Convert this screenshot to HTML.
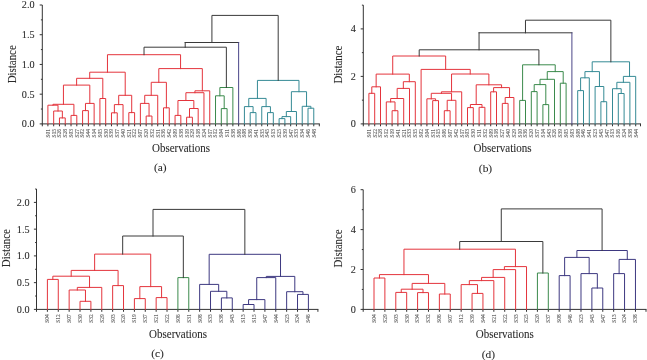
<!DOCTYPE html>
<html><head><meta charset="utf-8"><style>
html,body{margin:0;padding:0;background:#fff;}
body{width:647px;height:360px;overflow:hidden;}
svg{display:block;font-family:"Liberation Serif", serif;will-change:transform;}
</style></head><body>
<svg width="647" height="360" viewBox="0 0 647 360" shape-rendering="auto">
<rect width="647" height="360" fill="#fff"/>
<g stroke-linecap="square">
<line x1="42.30" y1="5.00" x2="42.30" y2="123.90" stroke="#333333" stroke-width="1.0" stroke-linecap="butt"/>
<line x1="39.70" y1="123.90" x2="42.30" y2="123.90" stroke="#333333" stroke-width="1.0" stroke-linecap="butt"/>
<line x1="40.90" y1="109.04" x2="42.30" y2="109.04" stroke="#333333" stroke-width="1.0" stroke-linecap="butt"/>
<line x1="39.70" y1="94.18" x2="42.30" y2="94.18" stroke="#333333" stroke-width="1.0" stroke-linecap="butt"/>
<line x1="40.90" y1="79.31" x2="42.30" y2="79.31" stroke="#333333" stroke-width="1.0" stroke-linecap="butt"/>
<line x1="39.70" y1="64.45" x2="42.30" y2="64.45" stroke="#333333" stroke-width="1.0" stroke-linecap="butt"/>
<line x1="40.90" y1="49.59" x2="42.30" y2="49.59" stroke="#333333" stroke-width="1.0" stroke-linecap="butt"/>
<line x1="39.70" y1="34.72" x2="42.30" y2="34.72" stroke="#333333" stroke-width="1.0" stroke-linecap="butt"/>
<line x1="40.90" y1="19.86" x2="42.30" y2="19.86" stroke="#333333" stroke-width="1.0" stroke-linecap="butt"/>
<line x1="39.70" y1="5.00" x2="42.30" y2="5.00" stroke="#333333" stroke-width="1.0" stroke-linecap="butt"/>
<line x1="41.80" y1="123.90" x2="319.80" y2="123.90" stroke="#333333" stroke-width="1.0" stroke-linecap="butt"/>
<line x1="42.30" y1="123.90" x2="42.30" y2="126.30" stroke="#333333" stroke-width="1.0" stroke-linecap="butt"/>
<line x1="47.90" y1="123.90" x2="47.90" y2="126.30" stroke="#333333" stroke-width="1.0" stroke-linecap="butt"/>
<line x1="53.68" y1="123.90" x2="53.68" y2="126.30" stroke="#333333" stroke-width="1.0" stroke-linecap="butt"/>
<line x1="59.46" y1="123.90" x2="59.46" y2="126.30" stroke="#333333" stroke-width="1.0" stroke-linecap="butt"/>
<line x1="65.24" y1="123.90" x2="65.24" y2="126.30" stroke="#333333" stroke-width="1.0" stroke-linecap="butt"/>
<line x1="71.02" y1="123.90" x2="71.02" y2="126.30" stroke="#333333" stroke-width="1.0" stroke-linecap="butt"/>
<line x1="76.80" y1="123.90" x2="76.80" y2="126.30" stroke="#333333" stroke-width="1.0" stroke-linecap="butt"/>
<line x1="82.58" y1="123.90" x2="82.58" y2="126.30" stroke="#333333" stroke-width="1.0" stroke-linecap="butt"/>
<line x1="88.36" y1="123.90" x2="88.36" y2="126.30" stroke="#333333" stroke-width="1.0" stroke-linecap="butt"/>
<line x1="94.14" y1="123.90" x2="94.14" y2="126.30" stroke="#333333" stroke-width="1.0" stroke-linecap="butt"/>
<line x1="99.92" y1="123.90" x2="99.92" y2="126.30" stroke="#333333" stroke-width="1.0" stroke-linecap="butt"/>
<line x1="105.70" y1="123.90" x2="105.70" y2="126.30" stroke="#333333" stroke-width="1.0" stroke-linecap="butt"/>
<line x1="111.48" y1="123.90" x2="111.48" y2="126.30" stroke="#333333" stroke-width="1.0" stroke-linecap="butt"/>
<line x1="117.26" y1="123.90" x2="117.26" y2="126.30" stroke="#333333" stroke-width="1.0" stroke-linecap="butt"/>
<line x1="123.04" y1="123.90" x2="123.04" y2="126.30" stroke="#333333" stroke-width="1.0" stroke-linecap="butt"/>
<line x1="128.82" y1="123.90" x2="128.82" y2="126.30" stroke="#333333" stroke-width="1.0" stroke-linecap="butt"/>
<line x1="134.60" y1="123.90" x2="134.60" y2="126.30" stroke="#333333" stroke-width="1.0" stroke-linecap="butt"/>
<line x1="140.38" y1="123.90" x2="140.38" y2="126.30" stroke="#333333" stroke-width="1.0" stroke-linecap="butt"/>
<line x1="146.16" y1="123.90" x2="146.16" y2="126.30" stroke="#333333" stroke-width="1.0" stroke-linecap="butt"/>
<line x1="151.94" y1="123.90" x2="151.94" y2="126.30" stroke="#333333" stroke-width="1.0" stroke-linecap="butt"/>
<line x1="157.72" y1="123.90" x2="157.72" y2="126.30" stroke="#333333" stroke-width="1.0" stroke-linecap="butt"/>
<line x1="163.50" y1="123.90" x2="163.50" y2="126.30" stroke="#333333" stroke-width="1.0" stroke-linecap="butt"/>
<line x1="169.28" y1="123.90" x2="169.28" y2="126.30" stroke="#333333" stroke-width="1.0" stroke-linecap="butt"/>
<line x1="175.06" y1="123.90" x2="175.06" y2="126.30" stroke="#333333" stroke-width="1.0" stroke-linecap="butt"/>
<line x1="180.84" y1="123.90" x2="180.84" y2="126.30" stroke="#333333" stroke-width="1.0" stroke-linecap="butt"/>
<line x1="186.62" y1="123.90" x2="186.62" y2="126.30" stroke="#333333" stroke-width="1.0" stroke-linecap="butt"/>
<line x1="192.40" y1="123.90" x2="192.40" y2="126.30" stroke="#333333" stroke-width="1.0" stroke-linecap="butt"/>
<line x1="198.18" y1="123.90" x2="198.18" y2="126.30" stroke="#333333" stroke-width="1.0" stroke-linecap="butt"/>
<line x1="203.96" y1="123.90" x2="203.96" y2="126.30" stroke="#333333" stroke-width="1.0" stroke-linecap="butt"/>
<line x1="209.74" y1="123.90" x2="209.74" y2="126.30" stroke="#333333" stroke-width="1.0" stroke-linecap="butt"/>
<line x1="215.52" y1="123.90" x2="215.52" y2="126.30" stroke="#333333" stroke-width="1.0" stroke-linecap="butt"/>
<line x1="221.30" y1="123.90" x2="221.30" y2="126.30" stroke="#333333" stroke-width="1.0" stroke-linecap="butt"/>
<line x1="227.08" y1="123.90" x2="227.08" y2="126.30" stroke="#333333" stroke-width="1.0" stroke-linecap="butt"/>
<line x1="232.86" y1="123.90" x2="232.86" y2="126.30" stroke="#333333" stroke-width="1.0" stroke-linecap="butt"/>
<line x1="238.64" y1="123.90" x2="238.64" y2="126.30" stroke="#333333" stroke-width="1.0" stroke-linecap="butt"/>
<line x1="244.42" y1="123.90" x2="244.42" y2="126.30" stroke="#333333" stroke-width="1.0" stroke-linecap="butt"/>
<line x1="250.20" y1="123.90" x2="250.20" y2="126.30" stroke="#333333" stroke-width="1.0" stroke-linecap="butt"/>
<line x1="255.98" y1="123.90" x2="255.98" y2="126.30" stroke="#333333" stroke-width="1.0" stroke-linecap="butt"/>
<line x1="261.76" y1="123.90" x2="261.76" y2="126.30" stroke="#333333" stroke-width="1.0" stroke-linecap="butt"/>
<line x1="267.54" y1="123.90" x2="267.54" y2="126.30" stroke="#333333" stroke-width="1.0" stroke-linecap="butt"/>
<line x1="273.32" y1="123.90" x2="273.32" y2="126.30" stroke="#333333" stroke-width="1.0" stroke-linecap="butt"/>
<line x1="279.10" y1="123.90" x2="279.10" y2="126.30" stroke="#333333" stroke-width="1.0" stroke-linecap="butt"/>
<line x1="284.88" y1="123.90" x2="284.88" y2="126.30" stroke="#333333" stroke-width="1.0" stroke-linecap="butt"/>
<line x1="290.66" y1="123.90" x2="290.66" y2="126.30" stroke="#333333" stroke-width="1.0" stroke-linecap="butt"/>
<line x1="296.44" y1="123.90" x2="296.44" y2="126.30" stroke="#333333" stroke-width="1.0" stroke-linecap="butt"/>
<line x1="302.22" y1="123.90" x2="302.22" y2="126.30" stroke="#333333" stroke-width="1.0" stroke-linecap="butt"/>
<line x1="308.00" y1="123.90" x2="308.00" y2="126.30" stroke="#333333" stroke-width="1.0" stroke-linecap="butt"/>
<line x1="313.78" y1="123.90" x2="313.78" y2="126.30" stroke="#333333" stroke-width="1.0" stroke-linecap="butt"/>
<line x1="319.30" y1="123.90" x2="319.30" y2="126.30" stroke="#333333" stroke-width="1.0" stroke-linecap="butt"/>
<path d="M59.46,123.90V117.90H65.24V123.90" stroke="#e4343c" stroke-width="1.0" fill="none"/>
<path d="M53.68,123.90V111.00H62.35V117.90" stroke="#e4343c" stroke-width="1.0" fill="none"/>
<path d="M47.90,123.90V105.20H58.02V111.00" stroke="#e4343c" stroke-width="1.0" fill="none"/>
<path d="M71.02,123.90V115.40H76.80V123.90" stroke="#e4343c" stroke-width="1.0" fill="none"/>
<path d="M52.96,105.20V104.30H73.91V115.40" stroke="#e4343c" stroke-width="1.0" fill="none"/>
<path d="M82.58,123.90V110.60H88.36V123.90" stroke="#e4343c" stroke-width="1.0" fill="none"/>
<path d="M85.47,110.60V103.40H94.14V123.90" stroke="#e4343c" stroke-width="1.0" fill="none"/>
<path d="M63.43,104.30V85.10H89.81V103.40" stroke="#e4343c" stroke-width="1.0" fill="none"/>
<path d="M99.92,123.90V98.50H105.70V123.90" stroke="#e4343c" stroke-width="1.0" fill="none"/>
<path d="M76.62,85.10V78.30H102.81V98.50" stroke="#e4343c" stroke-width="1.0" fill="none"/>
<path d="M111.48,123.90V112.80H117.26V123.90" stroke="#e4343c" stroke-width="1.0" fill="none"/>
<path d="M114.37,112.80V104.60H123.04V123.90" stroke="#e4343c" stroke-width="1.0" fill="none"/>
<path d="M128.82,123.90V112.60H134.60V123.90" stroke="#e4343c" stroke-width="1.0" fill="none"/>
<path d="M118.70,104.60V95.30H131.71V112.60" stroke="#e4343c" stroke-width="1.0" fill="none"/>
<path d="M89.71,78.30V72.20H125.21V95.30" stroke="#e4343c" stroke-width="1.0" fill="none"/>
<path d="M146.16,123.90V116.00H151.94V123.90" stroke="#e4343c" stroke-width="1.0" fill="none"/>
<path d="M140.38,123.90V103.40H149.05V116.00" stroke="#e4343c" stroke-width="1.0" fill="none"/>
<path d="M144.72,103.40V95.30H157.72V123.90" stroke="#e4343c" stroke-width="1.0" fill="none"/>
<path d="M163.50,123.90V107.80H169.28V123.90" stroke="#e4343c" stroke-width="1.0" fill="none"/>
<path d="M151.22,95.30V82.30H166.39V107.80" stroke="#e4343c" stroke-width="1.0" fill="none"/>
<path d="M175.06,123.90V115.40H180.84V123.90" stroke="#e4343c" stroke-width="1.0" fill="none"/>
<path d="M186.62,123.90V117.20H192.40V123.90" stroke="#e4343c" stroke-width="1.0" fill="none"/>
<path d="M189.51,117.20V108.50H198.18V123.90" stroke="#e4343c" stroke-width="1.0" fill="none"/>
<path d="M177.95,115.40V100.50H193.84V108.50" stroke="#e4343c" stroke-width="1.0" fill="none"/>
<path d="M185.90,100.50V92.70H203.96V123.90" stroke="#e4343c" stroke-width="1.0" fill="none"/>
<path d="M194.93,92.70V90.80H209.74V123.90" stroke="#e4343c" stroke-width="1.0" fill="none"/>
<path d="M158.80,82.30V68.60H202.33V90.80" stroke="#e4343c" stroke-width="1.0" fill="none"/>
<path d="M107.46,72.20V54.70H180.57V68.60" stroke="#e4343c" stroke-width="1.0" fill="none"/>
<path d="M221.30,123.90V108.60H227.08V123.90" stroke="#3b8a4c" stroke-width="1.0" fill="none"/>
<path d="M215.52,123.90V95.80H224.19V108.60" stroke="#3b8a4c" stroke-width="1.0" fill="none"/>
<path d="M219.86,95.80V87.50H232.86V123.90" stroke="#3b8a4c" stroke-width="1.0" fill="none"/>
<path d="M144.02,54.70V47.20H226.36V87.50" stroke="#3a3a3a" stroke-width="1.0" fill="none"/>
<path d="M185.19,42.50H238.64" stroke="#3a3a3a" stroke-width="1.0" fill="none"/>
<line x1="185.19" y1="47.20" x2="185.19" y2="42.50" stroke="#3a3a3a" stroke-width="1.0" stroke-linecap="square"/>
<line x1="238.64" y1="123.90" x2="238.64" y2="42.50" stroke="#4a4588" stroke-width="1.0" stroke-linecap="square"/>
<path d="M250.20,123.90V112.60H255.98V123.90" stroke="#358a95" stroke-width="1.0" fill="none"/>
<path d="M244.42,123.90V106.60H253.09V112.60" stroke="#358a95" stroke-width="1.0" fill="none"/>
<path d="M267.54,123.90V112.60H273.32V123.90" stroke="#358a95" stroke-width="1.0" fill="none"/>
<path d="M261.76,123.90V106.60H270.43V112.60" stroke="#358a95" stroke-width="1.0" fill="none"/>
<path d="M248.76,106.60V98.40H266.10V106.60" stroke="#358a95" stroke-width="1.0" fill="none"/>
<path d="M279.10,123.90V118.60H284.88V123.90" stroke="#358a95" stroke-width="1.0" fill="none"/>
<path d="M281.99,118.60V116.60H290.66V123.90" stroke="#358a95" stroke-width="1.0" fill="none"/>
<path d="M286.33,116.60V111.50H296.44V123.90" stroke="#358a95" stroke-width="1.0" fill="none"/>
<path d="M308.00,123.90V108.20H313.78V123.90" stroke="#358a95" stroke-width="1.0" fill="none"/>
<path d="M302.22,123.90V106.30H310.89V108.20" stroke="#358a95" stroke-width="1.0" fill="none"/>
<path d="M291.38,111.50V91.70H306.56V106.30" stroke="#358a95" stroke-width="1.0" fill="none"/>
<path d="M257.43,98.40V80.40H298.97V91.70" stroke="#358a95" stroke-width="1.0" fill="none"/>
<path d="M211.91,42.50V15.40H278.20V80.40" stroke="#3a3a3a" stroke-width="1.0" fill="none"/>
<line x1="363.30" y1="5.15" x2="363.30" y2="123.90" stroke="#333333" stroke-width="1.0" stroke-linecap="butt"/>
<line x1="360.70" y1="123.90" x2="363.30" y2="123.90" stroke="#333333" stroke-width="1.0" stroke-linecap="butt"/>
<line x1="361.90" y1="100.15" x2="363.30" y2="100.15" stroke="#333333" stroke-width="1.0" stroke-linecap="butt"/>
<line x1="360.70" y1="76.40" x2="363.30" y2="76.40" stroke="#333333" stroke-width="1.0" stroke-linecap="butt"/>
<line x1="361.90" y1="52.65" x2="363.30" y2="52.65" stroke="#333333" stroke-width="1.0" stroke-linecap="butt"/>
<line x1="360.70" y1="28.90" x2="363.30" y2="28.90" stroke="#333333" stroke-width="1.0" stroke-linecap="butt"/>
<line x1="361.90" y1="5.15" x2="363.30" y2="5.15" stroke="#333333" stroke-width="1.0" stroke-linecap="butt"/>
<line x1="362.80" y1="123.90" x2="641.00" y2="123.90" stroke="#333333" stroke-width="1.0" stroke-linecap="butt"/>
<line x1="363.30" y1="123.90" x2="363.30" y2="126.30" stroke="#333333" stroke-width="1.0" stroke-linecap="butt"/>
<line x1="368.90" y1="123.90" x2="368.90" y2="126.30" stroke="#333333" stroke-width="1.0" stroke-linecap="butt"/>
<line x1="374.70" y1="123.90" x2="374.70" y2="126.30" stroke="#333333" stroke-width="1.0" stroke-linecap="butt"/>
<line x1="380.50" y1="123.90" x2="380.50" y2="126.30" stroke="#333333" stroke-width="1.0" stroke-linecap="butt"/>
<line x1="386.30" y1="123.90" x2="386.30" y2="126.30" stroke="#333333" stroke-width="1.0" stroke-linecap="butt"/>
<line x1="392.10" y1="123.90" x2="392.10" y2="126.30" stroke="#333333" stroke-width="1.0" stroke-linecap="butt"/>
<line x1="397.90" y1="123.90" x2="397.90" y2="126.30" stroke="#333333" stroke-width="1.0" stroke-linecap="butt"/>
<line x1="403.70" y1="123.90" x2="403.70" y2="126.30" stroke="#333333" stroke-width="1.0" stroke-linecap="butt"/>
<line x1="409.50" y1="123.90" x2="409.50" y2="126.30" stroke="#333333" stroke-width="1.0" stroke-linecap="butt"/>
<line x1="415.30" y1="123.90" x2="415.30" y2="126.30" stroke="#333333" stroke-width="1.0" stroke-linecap="butt"/>
<line x1="421.10" y1="123.90" x2="421.10" y2="126.30" stroke="#333333" stroke-width="1.0" stroke-linecap="butt"/>
<line x1="426.90" y1="123.90" x2="426.90" y2="126.30" stroke="#333333" stroke-width="1.0" stroke-linecap="butt"/>
<line x1="432.70" y1="123.90" x2="432.70" y2="126.30" stroke="#333333" stroke-width="1.0" stroke-linecap="butt"/>
<line x1="438.50" y1="123.90" x2="438.50" y2="126.30" stroke="#333333" stroke-width="1.0" stroke-linecap="butt"/>
<line x1="444.30" y1="123.90" x2="444.30" y2="126.30" stroke="#333333" stroke-width="1.0" stroke-linecap="butt"/>
<line x1="450.10" y1="123.90" x2="450.10" y2="126.30" stroke="#333333" stroke-width="1.0" stroke-linecap="butt"/>
<line x1="455.90" y1="123.90" x2="455.90" y2="126.30" stroke="#333333" stroke-width="1.0" stroke-linecap="butt"/>
<line x1="461.70" y1="123.90" x2="461.70" y2="126.30" stroke="#333333" stroke-width="1.0" stroke-linecap="butt"/>
<line x1="467.50" y1="123.90" x2="467.50" y2="126.30" stroke="#333333" stroke-width="1.0" stroke-linecap="butt"/>
<line x1="473.30" y1="123.90" x2="473.30" y2="126.30" stroke="#333333" stroke-width="1.0" stroke-linecap="butt"/>
<line x1="479.10" y1="123.90" x2="479.10" y2="126.30" stroke="#333333" stroke-width="1.0" stroke-linecap="butt"/>
<line x1="484.90" y1="123.90" x2="484.90" y2="126.30" stroke="#333333" stroke-width="1.0" stroke-linecap="butt"/>
<line x1="490.70" y1="123.90" x2="490.70" y2="126.30" stroke="#333333" stroke-width="1.0" stroke-linecap="butt"/>
<line x1="496.50" y1="123.90" x2="496.50" y2="126.30" stroke="#333333" stroke-width="1.0" stroke-linecap="butt"/>
<line x1="502.30" y1="123.90" x2="502.30" y2="126.30" stroke="#333333" stroke-width="1.0" stroke-linecap="butt"/>
<line x1="508.10" y1="123.90" x2="508.10" y2="126.30" stroke="#333333" stroke-width="1.0" stroke-linecap="butt"/>
<line x1="513.90" y1="123.90" x2="513.90" y2="126.30" stroke="#333333" stroke-width="1.0" stroke-linecap="butt"/>
<line x1="519.70" y1="123.90" x2="519.70" y2="126.30" stroke="#333333" stroke-width="1.0" stroke-linecap="butt"/>
<line x1="525.50" y1="123.90" x2="525.50" y2="126.30" stroke="#333333" stroke-width="1.0" stroke-linecap="butt"/>
<line x1="531.30" y1="123.90" x2="531.30" y2="126.30" stroke="#333333" stroke-width="1.0" stroke-linecap="butt"/>
<line x1="537.10" y1="123.90" x2="537.10" y2="126.30" stroke="#333333" stroke-width="1.0" stroke-linecap="butt"/>
<line x1="542.90" y1="123.90" x2="542.90" y2="126.30" stroke="#333333" stroke-width="1.0" stroke-linecap="butt"/>
<line x1="548.70" y1="123.90" x2="548.70" y2="126.30" stroke="#333333" stroke-width="1.0" stroke-linecap="butt"/>
<line x1="554.50" y1="123.90" x2="554.50" y2="126.30" stroke="#333333" stroke-width="1.0" stroke-linecap="butt"/>
<line x1="560.30" y1="123.90" x2="560.30" y2="126.30" stroke="#333333" stroke-width="1.0" stroke-linecap="butt"/>
<line x1="566.10" y1="123.90" x2="566.10" y2="126.30" stroke="#333333" stroke-width="1.0" stroke-linecap="butt"/>
<line x1="571.90" y1="123.90" x2="571.90" y2="126.30" stroke="#333333" stroke-width="1.0" stroke-linecap="butt"/>
<line x1="577.70" y1="123.90" x2="577.70" y2="126.30" stroke="#333333" stroke-width="1.0" stroke-linecap="butt"/>
<line x1="583.50" y1="123.90" x2="583.50" y2="126.30" stroke="#333333" stroke-width="1.0" stroke-linecap="butt"/>
<line x1="589.30" y1="123.90" x2="589.30" y2="126.30" stroke="#333333" stroke-width="1.0" stroke-linecap="butt"/>
<line x1="595.10" y1="123.90" x2="595.10" y2="126.30" stroke="#333333" stroke-width="1.0" stroke-linecap="butt"/>
<line x1="600.90" y1="123.90" x2="600.90" y2="126.30" stroke="#333333" stroke-width="1.0" stroke-linecap="butt"/>
<line x1="606.70" y1="123.90" x2="606.70" y2="126.30" stroke="#333333" stroke-width="1.0" stroke-linecap="butt"/>
<line x1="612.50" y1="123.90" x2="612.50" y2="126.30" stroke="#333333" stroke-width="1.0" stroke-linecap="butt"/>
<line x1="618.30" y1="123.90" x2="618.30" y2="126.30" stroke="#333333" stroke-width="1.0" stroke-linecap="butt"/>
<line x1="624.10" y1="123.90" x2="624.10" y2="126.30" stroke="#333333" stroke-width="1.0" stroke-linecap="butt"/>
<line x1="629.90" y1="123.90" x2="629.90" y2="126.30" stroke="#333333" stroke-width="1.0" stroke-linecap="butt"/>
<line x1="635.70" y1="123.90" x2="635.70" y2="126.30" stroke="#333333" stroke-width="1.0" stroke-linecap="butt"/>
<line x1="640.50" y1="123.90" x2="640.50" y2="126.30" stroke="#333333" stroke-width="1.0" stroke-linecap="butt"/>
<path d="M368.90,123.90V93.30H374.70V123.90" stroke="#e4343c" stroke-width="1.0" fill="none"/>
<path d="M371.80,93.30V86.80H380.50V123.90" stroke="#e4343c" stroke-width="1.0" fill="none"/>
<path d="M392.10,123.90V110.70H397.90V123.90" stroke="#e4343c" stroke-width="1.0" fill="none"/>
<path d="M386.30,123.90V101.90H395.00V110.70" stroke="#e4343c" stroke-width="1.0" fill="none"/>
<path d="M390.65,101.90V98.50H403.70V123.90" stroke="#e4343c" stroke-width="1.0" fill="none"/>
<path d="M397.17,98.50V88.40H409.50V123.90" stroke="#e4343c" stroke-width="1.0" fill="none"/>
<path d="M403.34,88.40V81.70H415.30V123.90" stroke="#e4343c" stroke-width="1.0" fill="none"/>
<path d="M376.15,86.80V74.10H409.32V81.70" stroke="#e4343c" stroke-width="1.0" fill="none"/>
<path d="M432.70,123.90V100.60H438.50V123.90" stroke="#e4343c" stroke-width="1.0" fill="none"/>
<path d="M426.90,123.90V98.80H435.60V100.60" stroke="#e4343c" stroke-width="1.0" fill="none"/>
<path d="M444.30,123.90V110.70H450.10V123.90" stroke="#e4343c" stroke-width="1.0" fill="none"/>
<path d="M447.20,110.70V100.30H455.90V123.90" stroke="#e4343c" stroke-width="1.0" fill="none"/>
<path d="M431.25,98.80V93.30H451.55V100.30" stroke="#e4343c" stroke-width="1.0" fill="none"/>
<path d="M441.40,93.30V91.80H461.70V123.90" stroke="#e4343c" stroke-width="1.0" fill="none"/>
<path d="M467.50,123.90V107.60H473.30V123.90" stroke="#e4343c" stroke-width="1.0" fill="none"/>
<path d="M479.10,123.90V107.30H484.90V123.90" stroke="#e4343c" stroke-width="1.0" fill="none"/>
<path d="M470.40,107.60V104.50H482.00V107.30" stroke="#e4343c" stroke-width="1.0" fill="none"/>
<path d="M490.70,123.90V91.80H496.50V123.90" stroke="#e4343c" stroke-width="1.0" fill="none"/>
<path d="M502.30,123.90V103.40H508.10V123.90" stroke="#e4343c" stroke-width="1.0" fill="none"/>
<path d="M505.20,103.40V97.50H513.90V123.90" stroke="#e4343c" stroke-width="1.0" fill="none"/>
<path d="M493.60,91.80V87.60H509.55V97.50" stroke="#e4343c" stroke-width="1.0" fill="none"/>
<path d="M476.20,104.50V84.80H501.57V87.60" stroke="#e4343c" stroke-width="1.0" fill="none"/>
<path d="M451.55,91.80V74.00H488.89V84.80" stroke="#e4343c" stroke-width="1.0" fill="none"/>
<path d="M421.10,123.90V69.40H470.22V74.00" stroke="#e4343c" stroke-width="1.0" fill="none"/>
<path d="M392.73,74.10V56.00H445.66V69.40" stroke="#e4343c" stroke-width="1.0" fill="none"/>
<path d="M519.70,123.90V100.40H525.50V123.90" stroke="#3b8a4c" stroke-width="1.0" fill="none"/>
<path d="M531.30,123.90V91.60H537.10V123.90" stroke="#3b8a4c" stroke-width="1.0" fill="none"/>
<path d="M542.90,123.90V104.60H548.70V123.90" stroke="#3b8a4c" stroke-width="1.0" fill="none"/>
<path d="M534.20,91.60V84.60H545.80V104.60" stroke="#3b8a4c" stroke-width="1.0" fill="none"/>
<path d="M540.00,84.60V79.30H554.50V123.90" stroke="#3b8a4c" stroke-width="1.0" fill="none"/>
<path d="M560.30,123.90V83.20H566.10V123.90" stroke="#3b8a4c" stroke-width="1.0" fill="none"/>
<path d="M547.25,79.30V71.60H563.20V83.20" stroke="#3b8a4c" stroke-width="1.0" fill="none"/>
<path d="M522.60,100.40V64.80H555.22V71.60" stroke="#3b8a4c" stroke-width="1.0" fill="none"/>
<path d="M419.20,56.00V49.80H538.91V64.80" stroke="#3a3a3a" stroke-width="1.0" fill="none"/>
<path d="M479.05,32.80H571.90" stroke="#3a3a3a" stroke-width="1.0" fill="none"/>
<line x1="479.05" y1="49.80" x2="479.05" y2="32.80" stroke="#3a3a3a" stroke-width="1.0" stroke-linecap="square"/>
<line x1="571.90" y1="123.90" x2="571.90" y2="32.80" stroke="#4a4588" stroke-width="1.0" stroke-linecap="square"/>
<path d="M577.70,123.90V90.60H583.50V123.90" stroke="#358a95" stroke-width="1.0" fill="none"/>
<path d="M580.60,90.60V77.80H589.30V123.90" stroke="#358a95" stroke-width="1.0" fill="none"/>
<path d="M600.90,123.90V101.70H606.70V123.90" stroke="#358a95" stroke-width="1.0" fill="none"/>
<path d="M595.10,123.90V86.50H603.80V101.70" stroke="#358a95" stroke-width="1.0" fill="none"/>
<path d="M584.95,77.80V71.60H599.45V86.50" stroke="#358a95" stroke-width="1.0" fill="none"/>
<path d="M618.30,123.90V93.50H624.10V123.90" stroke="#358a95" stroke-width="1.0" fill="none"/>
<path d="M612.50,123.90V88.70H621.20V93.50" stroke="#358a95" stroke-width="1.0" fill="none"/>
<path d="M616.85,88.70V82.30H629.90V123.90" stroke="#358a95" stroke-width="1.0" fill="none"/>
<path d="M623.38,82.30V76.40H635.70V123.90" stroke="#358a95" stroke-width="1.0" fill="none"/>
<path d="M592.20,71.60V61.80H629.54V76.40" stroke="#358a95" stroke-width="1.0" fill="none"/>
<path d="M525.48,32.80V20.20H610.87V61.80" stroke="#3a3a3a" stroke-width="1.0" fill="none"/>
<line x1="36.50" y1="189.00" x2="36.50" y2="309.40" stroke="#333333" stroke-width="1.0" stroke-linecap="butt"/>
<line x1="33.90" y1="309.40" x2="36.50" y2="309.40" stroke="#333333" stroke-width="1.0" stroke-linecap="butt"/>
<line x1="35.10" y1="296.02" x2="36.50" y2="296.02" stroke="#333333" stroke-width="1.0" stroke-linecap="butt"/>
<line x1="33.90" y1="282.65" x2="36.50" y2="282.65" stroke="#333333" stroke-width="1.0" stroke-linecap="butt"/>
<line x1="35.10" y1="269.27" x2="36.50" y2="269.27" stroke="#333333" stroke-width="1.0" stroke-linecap="butt"/>
<line x1="33.90" y1="255.90" x2="36.50" y2="255.90" stroke="#333333" stroke-width="1.0" stroke-linecap="butt"/>
<line x1="35.10" y1="242.52" x2="36.50" y2="242.52" stroke="#333333" stroke-width="1.0" stroke-linecap="butt"/>
<line x1="33.90" y1="229.15" x2="36.50" y2="229.15" stroke="#333333" stroke-width="1.0" stroke-linecap="butt"/>
<line x1="35.10" y1="215.77" x2="36.50" y2="215.77" stroke="#333333" stroke-width="1.0" stroke-linecap="butt"/>
<line x1="33.90" y1="202.40" x2="36.50" y2="202.40" stroke="#333333" stroke-width="1.0" stroke-linecap="butt"/>
<line x1="35.10" y1="189.02" x2="36.50" y2="189.02" stroke="#333333" stroke-width="1.0" stroke-linecap="butt"/>
<line x1="36.00" y1="309.40" x2="318.40" y2="309.40" stroke="#333333" stroke-width="1.0" stroke-linecap="butt"/>
<line x1="36.50" y1="309.40" x2="36.50" y2="311.80" stroke="#333333" stroke-width="1.0" stroke-linecap="butt"/>
<line x1="47.40" y1="309.40" x2="47.40" y2="311.80" stroke="#333333" stroke-width="1.0" stroke-linecap="butt"/>
<line x1="58.27" y1="309.40" x2="58.27" y2="311.80" stroke="#333333" stroke-width="1.0" stroke-linecap="butt"/>
<line x1="69.15" y1="309.40" x2="69.15" y2="311.80" stroke="#333333" stroke-width="1.0" stroke-linecap="butt"/>
<line x1="80.03" y1="309.40" x2="80.03" y2="311.80" stroke="#333333" stroke-width="1.0" stroke-linecap="butt"/>
<line x1="90.90" y1="309.40" x2="90.90" y2="311.80" stroke="#333333" stroke-width="1.0" stroke-linecap="butt"/>
<line x1="101.78" y1="309.40" x2="101.78" y2="311.80" stroke="#333333" stroke-width="1.0" stroke-linecap="butt"/>
<line x1="112.65" y1="309.40" x2="112.65" y2="311.80" stroke="#333333" stroke-width="1.0" stroke-linecap="butt"/>
<line x1="123.53" y1="309.40" x2="123.53" y2="311.80" stroke="#333333" stroke-width="1.0" stroke-linecap="butt"/>
<line x1="134.40" y1="309.40" x2="134.40" y2="311.80" stroke="#333333" stroke-width="1.0" stroke-linecap="butt"/>
<line x1="145.28" y1="309.40" x2="145.28" y2="311.80" stroke="#333333" stroke-width="1.0" stroke-linecap="butt"/>
<line x1="156.15" y1="309.40" x2="156.15" y2="311.80" stroke="#333333" stroke-width="1.0" stroke-linecap="butt"/>
<line x1="167.03" y1="309.40" x2="167.03" y2="311.80" stroke="#333333" stroke-width="1.0" stroke-linecap="butt"/>
<line x1="177.90" y1="309.40" x2="177.90" y2="311.80" stroke="#333333" stroke-width="1.0" stroke-linecap="butt"/>
<line x1="188.78" y1="309.40" x2="188.78" y2="311.80" stroke="#333333" stroke-width="1.0" stroke-linecap="butt"/>
<line x1="199.65" y1="309.40" x2="199.65" y2="311.80" stroke="#333333" stroke-width="1.0" stroke-linecap="butt"/>
<line x1="210.53" y1="309.40" x2="210.53" y2="311.80" stroke="#333333" stroke-width="1.0" stroke-linecap="butt"/>
<line x1="221.40" y1="309.40" x2="221.40" y2="311.80" stroke="#333333" stroke-width="1.0" stroke-linecap="butt"/>
<line x1="232.28" y1="309.40" x2="232.28" y2="311.80" stroke="#333333" stroke-width="1.0" stroke-linecap="butt"/>
<line x1="243.15" y1="309.40" x2="243.15" y2="311.80" stroke="#333333" stroke-width="1.0" stroke-linecap="butt"/>
<line x1="254.03" y1="309.40" x2="254.03" y2="311.80" stroke="#333333" stroke-width="1.0" stroke-linecap="butt"/>
<line x1="264.90" y1="309.40" x2="264.90" y2="311.80" stroke="#333333" stroke-width="1.0" stroke-linecap="butt"/>
<line x1="275.77" y1="309.40" x2="275.77" y2="311.80" stroke="#333333" stroke-width="1.0" stroke-linecap="butt"/>
<line x1="286.65" y1="309.40" x2="286.65" y2="311.80" stroke="#333333" stroke-width="1.0" stroke-linecap="butt"/>
<line x1="297.52" y1="309.40" x2="297.52" y2="311.80" stroke="#333333" stroke-width="1.0" stroke-linecap="butt"/>
<line x1="308.40" y1="309.40" x2="308.40" y2="311.80" stroke="#333333" stroke-width="1.0" stroke-linecap="butt"/>
<line x1="317.90" y1="309.40" x2="317.90" y2="311.80" stroke="#333333" stroke-width="1.0" stroke-linecap="butt"/>
<path d="M47.40,309.40V279.40H58.27V309.40" stroke="#e4343c" stroke-width="1.0" fill="none"/>
<path d="M80.03,309.40V301.30H90.90V309.40" stroke="#e4343c" stroke-width="1.0" fill="none"/>
<path d="M69.15,309.40V290.00H85.46V301.30" stroke="#e4343c" stroke-width="1.0" fill="none"/>
<path d="M77.31,290.00V287.40H101.78V309.40" stroke="#e4343c" stroke-width="1.0" fill="none"/>
<path d="M52.84,279.40V276.20H89.54V287.40" stroke="#e4343c" stroke-width="1.0" fill="none"/>
<path d="M112.65,309.40V285.60H123.53V309.40" stroke="#e4343c" stroke-width="1.0" fill="none"/>
<path d="M71.19,276.20V270.40H118.09V285.60" stroke="#e4343c" stroke-width="1.0" fill="none"/>
<path d="M134.40,309.40V298.60H145.28V309.40" stroke="#e4343c" stroke-width="1.0" fill="none"/>
<path d="M156.15,309.40V297.60H167.03V309.40" stroke="#e4343c" stroke-width="1.0" fill="none"/>
<path d="M139.84,298.60V286.60H161.59V297.60" stroke="#e4343c" stroke-width="1.0" fill="none"/>
<path d="M94.64,270.40V254.10H150.71V286.60" stroke="#e4343c" stroke-width="1.0" fill="none"/>
<path d="M177.90,309.40V277.60H188.78V309.40" stroke="#3b8a4c" stroke-width="1.0" fill="none"/>
<path d="M122.68,254.10V236.00H183.34V277.60" stroke="#3a3a3a" stroke-width="1.0" fill="none"/>
<path d="M221.40,309.40V297.90H232.28V309.40" stroke="#3d3880" stroke-width="1.0" fill="none"/>
<path d="M210.53,309.40V291.30H226.84V297.90" stroke="#3d3880" stroke-width="1.0" fill="none"/>
<path d="M199.65,309.40V284.40H218.68V291.30" stroke="#3d3880" stroke-width="1.0" fill="none"/>
<path d="M243.15,309.40V304.50H254.03V309.40" stroke="#3d3880" stroke-width="1.0" fill="none"/>
<path d="M248.59,304.50V299.60H264.90V309.40" stroke="#3d3880" stroke-width="1.0" fill="none"/>
<path d="M256.74,299.60V277.60H275.77V309.40" stroke="#3d3880" stroke-width="1.0" fill="none"/>
<path d="M297.52,309.40V294.40H308.40V309.40" stroke="#3d3880" stroke-width="1.0" fill="none"/>
<path d="M286.65,309.40V291.70H302.96V294.40" stroke="#3d3880" stroke-width="1.0" fill="none"/>
<path d="M266.26,277.60V276.40H294.81V291.70" stroke="#3d3880" stroke-width="1.0" fill="none"/>
<path d="M209.17,284.40V254.30H280.53V276.40" stroke="#3d3880" stroke-width="1.0" fill="none"/>
<path d="M153.01,236.00V209.40H244.85V254.30" stroke="#3a3a3a" stroke-width="1.0" fill="none"/>
<line x1="363.20" y1="189.70" x2="363.20" y2="309.40" stroke="#333333" stroke-width="1.0" stroke-linecap="butt"/>
<line x1="360.60" y1="309.40" x2="363.20" y2="309.40" stroke="#333333" stroke-width="1.0" stroke-linecap="butt"/>
<line x1="361.80" y1="289.45" x2="363.20" y2="289.45" stroke="#333333" stroke-width="1.0" stroke-linecap="butt"/>
<line x1="360.60" y1="269.50" x2="363.20" y2="269.50" stroke="#333333" stroke-width="1.0" stroke-linecap="butt"/>
<line x1="361.80" y1="249.55" x2="363.20" y2="249.55" stroke="#333333" stroke-width="1.0" stroke-linecap="butt"/>
<line x1="360.60" y1="229.60" x2="363.20" y2="229.60" stroke="#333333" stroke-width="1.0" stroke-linecap="butt"/>
<line x1="361.80" y1="209.65" x2="363.20" y2="209.65" stroke="#333333" stroke-width="1.0" stroke-linecap="butt"/>
<line x1="360.60" y1="189.70" x2="363.20" y2="189.70" stroke="#333333" stroke-width="1.0" stroke-linecap="butt"/>
<line x1="362.70" y1="309.40" x2="646.50" y2="309.40" stroke="#333333" stroke-width="1.0" stroke-linecap="butt"/>
<line x1="363.20" y1="309.40" x2="363.20" y2="311.80" stroke="#333333" stroke-width="1.0" stroke-linecap="butt"/>
<line x1="374.00" y1="309.40" x2="374.00" y2="311.80" stroke="#333333" stroke-width="1.0" stroke-linecap="butt"/>
<line x1="384.89" y1="309.40" x2="384.89" y2="311.80" stroke="#333333" stroke-width="1.0" stroke-linecap="butt"/>
<line x1="395.79" y1="309.40" x2="395.79" y2="311.80" stroke="#333333" stroke-width="1.0" stroke-linecap="butt"/>
<line x1="406.68" y1="309.40" x2="406.68" y2="311.80" stroke="#333333" stroke-width="1.0" stroke-linecap="butt"/>
<line x1="417.58" y1="309.40" x2="417.58" y2="311.80" stroke="#333333" stroke-width="1.0" stroke-linecap="butt"/>
<line x1="428.47" y1="309.40" x2="428.47" y2="311.80" stroke="#333333" stroke-width="1.0" stroke-linecap="butt"/>
<line x1="439.36" y1="309.40" x2="439.36" y2="311.80" stroke="#333333" stroke-width="1.0" stroke-linecap="butt"/>
<line x1="450.26" y1="309.40" x2="450.26" y2="311.80" stroke="#333333" stroke-width="1.0" stroke-linecap="butt"/>
<line x1="461.15" y1="309.40" x2="461.15" y2="311.80" stroke="#333333" stroke-width="1.0" stroke-linecap="butt"/>
<line x1="472.05" y1="309.40" x2="472.05" y2="311.80" stroke="#333333" stroke-width="1.0" stroke-linecap="butt"/>
<line x1="482.94" y1="309.40" x2="482.94" y2="311.80" stroke="#333333" stroke-width="1.0" stroke-linecap="butt"/>
<line x1="493.83" y1="309.40" x2="493.83" y2="311.80" stroke="#333333" stroke-width="1.0" stroke-linecap="butt"/>
<line x1="504.73" y1="309.40" x2="504.73" y2="311.80" stroke="#333333" stroke-width="1.0" stroke-linecap="butt"/>
<line x1="515.62" y1="309.40" x2="515.62" y2="311.80" stroke="#333333" stroke-width="1.0" stroke-linecap="butt"/>
<line x1="526.52" y1="309.40" x2="526.52" y2="311.80" stroke="#333333" stroke-width="1.0" stroke-linecap="butt"/>
<line x1="537.41" y1="309.40" x2="537.41" y2="311.80" stroke="#333333" stroke-width="1.0" stroke-linecap="butt"/>
<line x1="548.30" y1="309.40" x2="548.30" y2="311.80" stroke="#333333" stroke-width="1.0" stroke-linecap="butt"/>
<line x1="559.20" y1="309.40" x2="559.20" y2="311.80" stroke="#333333" stroke-width="1.0" stroke-linecap="butt"/>
<line x1="570.09" y1="309.40" x2="570.09" y2="311.80" stroke="#333333" stroke-width="1.0" stroke-linecap="butt"/>
<line x1="580.99" y1="309.40" x2="580.99" y2="311.80" stroke="#333333" stroke-width="1.0" stroke-linecap="butt"/>
<line x1="591.88" y1="309.40" x2="591.88" y2="311.80" stroke="#333333" stroke-width="1.0" stroke-linecap="butt"/>
<line x1="602.77" y1="309.40" x2="602.77" y2="311.80" stroke="#333333" stroke-width="1.0" stroke-linecap="butt"/>
<line x1="613.67" y1="309.40" x2="613.67" y2="311.80" stroke="#333333" stroke-width="1.0" stroke-linecap="butt"/>
<line x1="624.56" y1="309.40" x2="624.56" y2="311.80" stroke="#333333" stroke-width="1.0" stroke-linecap="butt"/>
<line x1="635.46" y1="309.40" x2="635.46" y2="311.80" stroke="#333333" stroke-width="1.0" stroke-linecap="butt"/>
<line x1="646.00" y1="309.40" x2="646.00" y2="311.80" stroke="#333333" stroke-width="1.0" stroke-linecap="butt"/>
<path d="M374.00,309.40V278.00H384.89V309.40" stroke="#e4343c" stroke-width="1.0" fill="none"/>
<path d="M395.79,309.40V292.40H406.68V309.40" stroke="#e4343c" stroke-width="1.0" fill="none"/>
<path d="M417.58,309.40V292.60H428.47V309.40" stroke="#e4343c" stroke-width="1.0" fill="none"/>
<path d="M401.24,292.40V289.20H423.02V292.60" stroke="#e4343c" stroke-width="1.0" fill="none"/>
<path d="M439.36,309.40V294.00H450.26V309.40" stroke="#e4343c" stroke-width="1.0" fill="none"/>
<path d="M412.13,289.20V283.40H444.81V294.00" stroke="#e4343c" stroke-width="1.0" fill="none"/>
<path d="M379.45,278.00V274.60H428.47V283.40" stroke="#e4343c" stroke-width="1.0" fill="none"/>
<path d="M472.05,309.40V293.40H482.94V309.40" stroke="#e4343c" stroke-width="1.0" fill="none"/>
<path d="M461.15,309.40V284.60H477.49V293.40" stroke="#e4343c" stroke-width="1.0" fill="none"/>
<path d="M469.32,284.60V280.60H493.83V309.40" stroke="#e4343c" stroke-width="1.0" fill="none"/>
<path d="M481.58,280.60V277.40H504.73V309.40" stroke="#e4343c" stroke-width="1.0" fill="none"/>
<path d="M493.15,277.40V269.60H515.62V309.40" stroke="#e4343c" stroke-width="1.0" fill="none"/>
<path d="M504.39,269.60V266.60H526.52V309.40" stroke="#e4343c" stroke-width="1.0" fill="none"/>
<path d="M403.96,274.60V249.20H515.45V266.60" stroke="#e4343c" stroke-width="1.0" fill="none"/>
<path d="M537.41,309.40V273.00H548.30V309.40" stroke="#3b8a4c" stroke-width="1.0" fill="none"/>
<path d="M459.71,249.20V241.50H542.86V273.00" stroke="#3a3a3a" stroke-width="1.0" fill="none"/>
<path d="M559.20,309.40V275.60H570.09V309.40" stroke="#3d3880" stroke-width="1.0" fill="none"/>
<path d="M591.88,309.40V288.00H602.77V309.40" stroke="#3d3880" stroke-width="1.0" fill="none"/>
<path d="M580.99,309.40V273.60H597.33V288.00" stroke="#3d3880" stroke-width="1.0" fill="none"/>
<path d="M564.64,275.60V257.40H589.16V273.60" stroke="#3d3880" stroke-width="1.0" fill="none"/>
<path d="M613.67,309.40V273.60H624.56V309.40" stroke="#3d3880" stroke-width="1.0" fill="none"/>
<path d="M619.12,273.60V259.40H635.46V309.40" stroke="#3d3880" stroke-width="1.0" fill="none"/>
<path d="M576.90,257.40V250.50H627.29V259.40" stroke="#3d3880" stroke-width="1.0" fill="none"/>
<path d="M501.28,241.50V208.90H602.09V250.50" stroke="#3a3a3a" stroke-width="1.0" fill="none"/>
</g>
<g>
<text x="34.60" y="127.27" font-size="10.2" text-anchor="end" fill="#2a2a2a" stroke="#2a2a2a" stroke-width="0.08">0.0</text>
<text x="34.60" y="97.54" font-size="10.2" text-anchor="end" fill="#2a2a2a" stroke="#2a2a2a" stroke-width="0.08">0.5</text>
<text x="34.60" y="67.82" font-size="10.2" text-anchor="end" fill="#2a2a2a" stroke="#2a2a2a" stroke-width="0.08">1.0</text>
<text x="34.60" y="38.09" font-size="10.2" text-anchor="end" fill="#2a2a2a" stroke="#2a2a2a" stroke-width="0.08">1.5</text>
<text x="34.60" y="8.37" font-size="10.2" text-anchor="end" fill="#2a2a2a" stroke="#2a2a2a" stroke-width="0.08">2.0</text>
<text x="49.79" y="129.00" font-size="5.4" text-anchor="end" fill="#505050" transform="rotate(-90 49.79 129.00)" stroke="#505050" stroke-width="0.08">S01</text>
<text x="55.57" y="129.00" font-size="5.4" text-anchor="end" fill="#505050" transform="rotate(-90 55.57 129.00)" stroke="#505050" stroke-width="0.08">S15</text>
<text x="61.35" y="129.00" font-size="5.4" text-anchor="end" fill="#505050" transform="rotate(-90 61.35 129.00)" stroke="#505050" stroke-width="0.08">S26</text>
<text x="67.13" y="129.00" font-size="5.4" text-anchor="end" fill="#505050" transform="rotate(-90 67.13 129.00)" stroke="#505050" stroke-width="0.08">S28</text>
<text x="72.91" y="129.00" font-size="5.4" text-anchor="end" fill="#505050" transform="rotate(-90 72.91 129.00)" stroke="#505050" stroke-width="0.08">S03</text>
<text x="78.69" y="129.00" font-size="5.4" text-anchor="end" fill="#505050" transform="rotate(-90 78.69 129.00)" stroke="#505050" stroke-width="0.08">S27</text>
<text x="84.47" y="129.00" font-size="5.4" text-anchor="end" fill="#505050" transform="rotate(-90 84.47 129.00)" stroke="#505050" stroke-width="0.08">S02</text>
<text x="90.25" y="129.00" font-size="5.4" text-anchor="end" fill="#505050" transform="rotate(-90 90.25 129.00)" stroke="#505050" stroke-width="0.08">S44</text>
<text x="96.03" y="129.00" font-size="5.4" text-anchor="end" fill="#505050" transform="rotate(-90 96.03 129.00)" stroke="#505050" stroke-width="0.08">S14</text>
<text x="101.81" y="129.00" font-size="5.4" text-anchor="end" fill="#505050" transform="rotate(-90 101.81 129.00)" stroke="#505050" stroke-width="0.08">S05</text>
<text x="107.59" y="129.00" font-size="5.4" text-anchor="end" fill="#505050" transform="rotate(-90 107.59 129.00)" stroke="#505050" stroke-width="0.08">S30</text>
<text x="113.37" y="129.00" font-size="5.4" text-anchor="end" fill="#505050" transform="rotate(-90 113.37 129.00)" stroke="#505050" stroke-width="0.08">S39</text>
<text x="119.15" y="129.00" font-size="5.4" text-anchor="end" fill="#505050" transform="rotate(-90 119.15 129.00)" stroke="#505050" stroke-width="0.08">S37</text>
<text x="124.93" y="129.00" font-size="5.4" text-anchor="end" fill="#505050" transform="rotate(-90 124.93 129.00)" stroke="#505050" stroke-width="0.08">S40</text>
<text x="130.71" y="129.00" font-size="5.4" text-anchor="end" fill="#505050" transform="rotate(-90 130.71 129.00)" stroke="#505050" stroke-width="0.08">S21</text>
<text x="136.49" y="129.00" font-size="5.4" text-anchor="end" fill="#505050" transform="rotate(-90 136.49 129.00)" stroke="#505050" stroke-width="0.08">S22</text>
<text x="142.27" y="129.00" font-size="5.4" text-anchor="end" fill="#505050" transform="rotate(-90 142.27 129.00)" stroke="#505050" stroke-width="0.08">S07</text>
<text x="148.05" y="129.00" font-size="5.4" text-anchor="end" fill="#505050" transform="rotate(-90 148.05 129.00)" stroke="#505050" stroke-width="0.08">S20</text>
<text x="153.83" y="129.00" font-size="5.4" text-anchor="end" fill="#505050" transform="rotate(-90 153.83 129.00)" stroke="#505050" stroke-width="0.08">S32</text>
<text x="159.61" y="129.00" font-size="5.4" text-anchor="end" fill="#505050" transform="rotate(-90 159.61 129.00)" stroke="#505050" stroke-width="0.08">S31</text>
<text x="165.39" y="129.00" font-size="5.4" text-anchor="end" fill="#505050" transform="rotate(-90 165.39 129.00)" stroke="#505050" stroke-width="0.08">S36</text>
<text x="171.17" y="129.00" font-size="5.4" text-anchor="end" fill="#505050" transform="rotate(-90 171.17 129.00)" stroke="#505050" stroke-width="0.08">S42</text>
<text x="176.95" y="129.00" font-size="5.4" text-anchor="end" fill="#505050" transform="rotate(-90 176.95 129.00)" stroke="#505050" stroke-width="0.08">S09</text>
<text x="182.73" y="129.00" font-size="5.4" text-anchor="end" fill="#505050" transform="rotate(-90 182.73 129.00)" stroke="#505050" stroke-width="0.08">S38</text>
<text x="188.51" y="129.00" font-size="5.4" text-anchor="end" fill="#505050" transform="rotate(-90 188.51 129.00)" stroke="#505050" stroke-width="0.08">S19</text>
<text x="194.29" y="129.00" font-size="5.4" text-anchor="end" fill="#505050" transform="rotate(-90 194.29 129.00)" stroke="#505050" stroke-width="0.08">S29</text>
<text x="200.07" y="129.00" font-size="5.4" text-anchor="end" fill="#505050" transform="rotate(-90 200.07 129.00)" stroke="#505050" stroke-width="0.08">S18</text>
<text x="205.85" y="129.00" font-size="5.4" text-anchor="end" fill="#505050" transform="rotate(-90 205.85 129.00)" stroke="#505050" stroke-width="0.08">S24</text>
<text x="211.63" y="129.00" font-size="5.4" text-anchor="end" fill="#505050" transform="rotate(-90 211.63 129.00)" stroke="#505050" stroke-width="0.08">S17</text>
<text x="217.41" y="129.00" font-size="5.4" text-anchor="end" fill="#505050" transform="rotate(-90 217.41 129.00)" stroke="#505050" stroke-width="0.08">S12</text>
<text x="223.19" y="129.00" font-size="5.4" text-anchor="end" fill="#505050" transform="rotate(-90 223.19 129.00)" stroke="#505050" stroke-width="0.08">S04</text>
<text x="228.97" y="129.00" font-size="5.4" text-anchor="end" fill="#505050" transform="rotate(-90 228.97 129.00)" stroke="#505050" stroke-width="0.08">S11</text>
<text x="234.75" y="129.00" font-size="5.4" text-anchor="end" fill="#505050" transform="rotate(-90 234.75 129.00)" stroke="#505050" stroke-width="0.08">S38</text>
<text x="240.53" y="129.00" font-size="5.4" text-anchor="end" fill="#505050" transform="rotate(-90 240.53 129.00)" stroke="#505050" stroke-width="0.08">S06</text>
<text x="246.31" y="129.00" font-size="5.4" text-anchor="end" fill="#505050" transform="rotate(-90 246.31 129.00)" stroke="#505050" stroke-width="0.08">S08</text>
<text x="252.09" y="129.00" font-size="5.4" text-anchor="end" fill="#505050" transform="rotate(-90 252.09 129.00)" stroke="#505050" stroke-width="0.08">S36</text>
<text x="257.87" y="129.00" font-size="5.4" text-anchor="end" fill="#505050" transform="rotate(-90 257.87 129.00)" stroke="#505050" stroke-width="0.08">S41</text>
<text x="263.65" y="129.00" font-size="5.4" text-anchor="end" fill="#505050" transform="rotate(-90 263.65 129.00)" stroke="#505050" stroke-width="0.08">S35</text>
<text x="269.43" y="129.00" font-size="5.4" text-anchor="end" fill="#505050" transform="rotate(-90 269.43 129.00)" stroke="#505050" stroke-width="0.08">S45</text>
<text x="275.21" y="129.00" font-size="5.4" text-anchor="end" fill="#505050" transform="rotate(-90 275.21 129.00)" stroke="#505050" stroke-width="0.08">S13</text>
<text x="280.99" y="129.00" font-size="5.4" text-anchor="end" fill="#505050" transform="rotate(-90 280.99 129.00)" stroke="#505050" stroke-width="0.08">S25</text>
<text x="286.77" y="129.00" font-size="5.4" text-anchor="end" fill="#505050" transform="rotate(-90 286.77 129.00)" stroke="#505050" stroke-width="0.08">S39</text>
<text x="292.55" y="129.00" font-size="5.4" text-anchor="end" fill="#505050" transform="rotate(-90 292.55 129.00)" stroke="#505050" stroke-width="0.08">S47</text>
<text x="298.33" y="129.00" font-size="5.4" text-anchor="end" fill="#505050" transform="rotate(-90 298.33 129.00)" stroke="#505050" stroke-width="0.08">S33</text>
<text x="304.11" y="129.00" font-size="5.4" text-anchor="end" fill="#505050" transform="rotate(-90 304.11 129.00)" stroke="#505050" stroke-width="0.08">S34</text>
<text x="309.89" y="129.00" font-size="5.4" text-anchor="end" fill="#505050" transform="rotate(-90 309.89 129.00)" stroke="#505050" stroke-width="0.08">S46</text>
<text x="315.67" y="129.00" font-size="5.4" text-anchor="end" fill="#505050" transform="rotate(-90 315.67 129.00)" stroke="#505050" stroke-width="0.08">S48</text>
<text x="181.00" y="151.70" font-size="11.9" text-anchor="middle" fill="#2a2a2a" stroke="#2a2a2a" stroke-width="0.08" textLength="58" lengthAdjust="spacingAndGlyphs">Observations</text>
<text x="160.30" y="171.20" font-size="11.4" text-anchor="middle" fill="#2a2a2a" stroke="#2a2a2a" stroke-width="0.08">(a)</text>
<text x="15.80" y="64.30" font-size="11.9" text-anchor="middle" fill="#2a2a2a" transform="rotate(-90 15.80 64.30)" stroke="#2a2a2a" stroke-width="0.08" textLength="38" lengthAdjust="spacingAndGlyphs">Distance</text>
<text x="355.80" y="127.27" font-size="10.2" text-anchor="end" fill="#2a2a2a" stroke="#2a2a2a" stroke-width="0.08">0</text>
<text x="355.80" y="79.77" font-size="10.2" text-anchor="end" fill="#2a2a2a" stroke="#2a2a2a" stroke-width="0.08">2</text>
<text x="355.80" y="32.27" font-size="10.2" text-anchor="end" fill="#2a2a2a" stroke="#2a2a2a" stroke-width="0.08">4</text>
<text x="370.79" y="129.00" font-size="5.4" text-anchor="end" fill="#505050" transform="rotate(-90 370.79 129.00)" stroke="#505050" stroke-width="0.08">S01</text>
<text x="376.59" y="129.00" font-size="5.4" text-anchor="end" fill="#505050" transform="rotate(-90 376.59 129.00)" stroke="#505050" stroke-width="0.08">S22</text>
<text x="382.39" y="129.00" font-size="5.4" text-anchor="end" fill="#505050" transform="rotate(-90 382.39 129.00)" stroke="#505050" stroke-width="0.08">S28</text>
<text x="388.19" y="129.00" font-size="5.4" text-anchor="end" fill="#505050" transform="rotate(-90 388.19 129.00)" stroke="#505050" stroke-width="0.08">S12</text>
<text x="393.99" y="129.00" font-size="5.4" text-anchor="end" fill="#505050" transform="rotate(-90 393.99 129.00)" stroke="#505050" stroke-width="0.08">S19</text>
<text x="399.79" y="129.00" font-size="5.4" text-anchor="end" fill="#505050" transform="rotate(-90 399.79 129.00)" stroke="#505050" stroke-width="0.08">S41</text>
<text x="405.59" y="129.00" font-size="5.4" text-anchor="end" fill="#505050" transform="rotate(-90 405.59 129.00)" stroke="#505050" stroke-width="0.08">S21</text>
<text x="411.39" y="129.00" font-size="5.4" text-anchor="end" fill="#505050" transform="rotate(-90 411.39 129.00)" stroke="#505050" stroke-width="0.08">S33</text>
<text x="417.19" y="129.00" font-size="5.4" text-anchor="end" fill="#505050" transform="rotate(-90 417.19 129.00)" stroke="#505050" stroke-width="0.08">S35</text>
<text x="422.99" y="129.00" font-size="5.4" text-anchor="end" fill="#505050" transform="rotate(-90 422.99 129.00)" stroke="#505050" stroke-width="0.08">S02</text>
<text x="428.79" y="129.00" font-size="5.4" text-anchor="end" fill="#505050" transform="rotate(-90 428.79 129.00)" stroke="#505050" stroke-width="0.08">S04</text>
<text x="434.59" y="129.00" font-size="5.4" text-anchor="end" fill="#505050" transform="rotate(-90 434.59 129.00)" stroke="#505050" stroke-width="0.08">S31</text>
<text x="440.39" y="129.00" font-size="5.4" text-anchor="end" fill="#505050" transform="rotate(-90 440.39 129.00)" stroke="#505050" stroke-width="0.08">S15</text>
<text x="446.19" y="129.00" font-size="5.4" text-anchor="end" fill="#505050" transform="rotate(-90 446.19 129.00)" stroke="#505050" stroke-width="0.08">S06</text>
<text x="451.99" y="129.00" font-size="5.4" text-anchor="end" fill="#505050" transform="rotate(-90 451.99 129.00)" stroke="#505050" stroke-width="0.08">S07</text>
<text x="457.79" y="129.00" font-size="5.4" text-anchor="end" fill="#505050" transform="rotate(-90 457.79 129.00)" stroke="#505050" stroke-width="0.08">S42</text>
<text x="463.59" y="129.00" font-size="5.4" text-anchor="end" fill="#505050" transform="rotate(-90 463.59 129.00)" stroke="#505050" stroke-width="0.08">S17</text>
<text x="469.39" y="129.00" font-size="5.4" text-anchor="end" fill="#505050" transform="rotate(-90 469.39 129.00)" stroke="#505050" stroke-width="0.08">S03</text>
<text x="475.19" y="129.00" font-size="5.4" text-anchor="end" fill="#505050" transform="rotate(-90 475.19 129.00)" stroke="#505050" stroke-width="0.08">S30</text>
<text x="480.99" y="129.00" font-size="5.4" text-anchor="end" fill="#505050" transform="rotate(-90 480.99 129.00)" stroke="#505050" stroke-width="0.08">S11</text>
<text x="486.79" y="129.00" font-size="5.4" text-anchor="end" fill="#505050" transform="rotate(-90 486.79 129.00)" stroke="#505050" stroke-width="0.08">S32</text>
<text x="492.59" y="129.00" font-size="5.4" text-anchor="end" fill="#505050" transform="rotate(-90 492.59 129.00)" stroke="#505050" stroke-width="0.08">S09</text>
<text x="498.39" y="129.00" font-size="5.4" text-anchor="end" fill="#505050" transform="rotate(-90 498.39 129.00)" stroke="#505050" stroke-width="0.08">S18</text>
<text x="504.19" y="129.00" font-size="5.4" text-anchor="end" fill="#505050" transform="rotate(-90 504.19 129.00)" stroke="#505050" stroke-width="0.08">S27</text>
<text x="509.99" y="129.00" font-size="5.4" text-anchor="end" fill="#505050" transform="rotate(-90 509.99 129.00)" stroke="#505050" stroke-width="0.08">S40</text>
<text x="515.79" y="129.00" font-size="5.4" text-anchor="end" fill="#505050" transform="rotate(-90 515.79 129.00)" stroke="#505050" stroke-width="0.08">S29</text>
<text x="521.59" y="129.00" font-size="5.4" text-anchor="end" fill="#505050" transform="rotate(-90 521.59 129.00)" stroke="#505050" stroke-width="0.08">S10</text>
<text x="527.39" y="129.00" font-size="5.4" text-anchor="end" fill="#505050" transform="rotate(-90 527.39 129.00)" stroke="#505050" stroke-width="0.08">S36</text>
<text x="533.19" y="129.00" font-size="5.4" text-anchor="end" fill="#505050" transform="rotate(-90 533.19 129.00)" stroke="#505050" stroke-width="0.08">S20</text>
<text x="538.99" y="129.00" font-size="5.4" text-anchor="end" fill="#505050" transform="rotate(-90 538.99 129.00)" stroke="#505050" stroke-width="0.08">S37</text>
<text x="544.79" y="129.00" font-size="5.4" text-anchor="end" fill="#505050" transform="rotate(-90 544.79 129.00)" stroke="#505050" stroke-width="0.08">S14</text>
<text x="550.59" y="129.00" font-size="5.4" text-anchor="end" fill="#505050" transform="rotate(-90 550.59 129.00)" stroke="#505050" stroke-width="0.08">S43</text>
<text x="556.39" y="129.00" font-size="5.4" text-anchor="end" fill="#505050" transform="rotate(-90 556.39 129.00)" stroke="#505050" stroke-width="0.08">S26</text>
<text x="562.19" y="129.00" font-size="5.4" text-anchor="end" fill="#505050" transform="rotate(-90 562.19 129.00)" stroke="#505050" stroke-width="0.08">S39</text>
<text x="567.99" y="129.00" font-size="5.4" text-anchor="end" fill="#505050" transform="rotate(-90 567.99 129.00)" stroke="#505050" stroke-width="0.08">S05</text>
<text x="573.79" y="129.00" font-size="5.4" text-anchor="end" fill="#505050" transform="rotate(-90 573.79 129.00)" stroke="#505050" stroke-width="0.08">S03</text>
<text x="579.59" y="129.00" font-size="5.4" text-anchor="end" fill="#505050" transform="rotate(-90 579.59 129.00)" stroke="#505050" stroke-width="0.08">S08</text>
<text x="585.39" y="129.00" font-size="5.4" text-anchor="end" fill="#505050" transform="rotate(-90 585.39 129.00)" stroke="#505050" stroke-width="0.08">S46</text>
<text x="591.19" y="129.00" font-size="5.4" text-anchor="end" fill="#505050" transform="rotate(-90 591.19 129.00)" stroke="#505050" stroke-width="0.08">S41</text>
<text x="596.99" y="129.00" font-size="5.4" text-anchor="end" fill="#505050" transform="rotate(-90 596.99 129.00)" stroke="#505050" stroke-width="0.08">S23</text>
<text x="602.79" y="129.00" font-size="5.4" text-anchor="end" fill="#505050" transform="rotate(-90 602.79 129.00)" stroke="#505050" stroke-width="0.08">S45</text>
<text x="608.59" y="129.00" font-size="5.4" text-anchor="end" fill="#505050" transform="rotate(-90 608.59 129.00)" stroke="#505050" stroke-width="0.08">S47</text>
<text x="614.39" y="129.00" font-size="5.4" text-anchor="end" fill="#505050" transform="rotate(-90 614.39 129.00)" stroke="#505050" stroke-width="0.08">S13</text>
<text x="620.19" y="129.00" font-size="5.4" text-anchor="end" fill="#505050" transform="rotate(-90 620.19 129.00)" stroke="#505050" stroke-width="0.08">S16</text>
<text x="625.99" y="129.00" font-size="5.4" text-anchor="end" fill="#505050" transform="rotate(-90 625.99 129.00)" stroke="#505050" stroke-width="0.08">S24</text>
<text x="631.79" y="129.00" font-size="5.4" text-anchor="end" fill="#505050" transform="rotate(-90 631.79 129.00)" stroke="#505050" stroke-width="0.08">S38</text>
<text x="637.59" y="129.00" font-size="5.4" text-anchor="end" fill="#505050" transform="rotate(-90 637.59 129.00)" stroke="#505050" stroke-width="0.08">S44</text>
<text x="502.60" y="151.70" font-size="11.9" text-anchor="middle" fill="#2a2a2a" stroke="#2a2a2a" stroke-width="0.08" textLength="58" lengthAdjust="spacingAndGlyphs">Observations</text>
<text x="485.50" y="172.10" font-size="11.4" text-anchor="middle" fill="#2a2a2a" stroke="#2a2a2a" stroke-width="0.08">(b)</text>
<text x="342.50" y="64.60" font-size="11.9" text-anchor="middle" fill="#2a2a2a" transform="rotate(-90 342.50 64.60)" stroke="#2a2a2a" stroke-width="0.08" textLength="38" lengthAdjust="spacingAndGlyphs">Distance</text>
<text x="29.60" y="312.77" font-size="10.2" text-anchor="end" fill="#2a2a2a" stroke="#2a2a2a" stroke-width="0.08">0.0</text>
<text x="29.60" y="286.02" font-size="10.2" text-anchor="end" fill="#2a2a2a" stroke="#2a2a2a" stroke-width="0.08">0.5</text>
<text x="29.60" y="259.27" font-size="10.2" text-anchor="end" fill="#2a2a2a" stroke="#2a2a2a" stroke-width="0.08">1.0</text>
<text x="29.60" y="232.52" font-size="10.2" text-anchor="end" fill="#2a2a2a" stroke="#2a2a2a" stroke-width="0.08">1.5</text>
<text x="29.60" y="205.77" font-size="10.2" text-anchor="end" fill="#2a2a2a" stroke="#2a2a2a" stroke-width="0.08">2.0</text>
<text x="49.29" y="314.30" font-size="5.4" text-anchor="end" fill="#505050" transform="rotate(-90 49.29 314.30)" stroke="#505050" stroke-width="0.08">S04</text>
<text x="60.16" y="314.30" font-size="5.4" text-anchor="end" fill="#505050" transform="rotate(-90 60.16 314.30)" stroke="#505050" stroke-width="0.08">S12</text>
<text x="71.04" y="314.30" font-size="5.4" text-anchor="end" fill="#505050" transform="rotate(-90 71.04 314.30)" stroke="#505050" stroke-width="0.08">S07</text>
<text x="81.92" y="314.30" font-size="5.4" text-anchor="end" fill="#505050" transform="rotate(-90 81.92 314.30)" stroke="#505050" stroke-width="0.08">S30</text>
<text x="92.79" y="314.30" font-size="5.4" text-anchor="end" fill="#505050" transform="rotate(-90 92.79 314.30)" stroke="#505050" stroke-width="0.08">S32</text>
<text x="103.67" y="314.30" font-size="5.4" text-anchor="end" fill="#505050" transform="rotate(-90 103.67 314.30)" stroke="#505050" stroke-width="0.08">S29</text>
<text x="114.54" y="314.30" font-size="5.4" text-anchor="end" fill="#505050" transform="rotate(-90 114.54 314.30)" stroke="#505050" stroke-width="0.08">S03</text>
<text x="125.42" y="314.30" font-size="5.4" text-anchor="end" fill="#505050" transform="rotate(-90 125.42 314.30)" stroke="#505050" stroke-width="0.08">S20</text>
<text x="136.29" y="314.30" font-size="5.4" text-anchor="end" fill="#505050" transform="rotate(-90 136.29 314.30)" stroke="#505050" stroke-width="0.08">S19</text>
<text x="147.16" y="314.30" font-size="5.4" text-anchor="end" fill="#505050" transform="rotate(-90 147.16 314.30)" stroke="#505050" stroke-width="0.08">S37</text>
<text x="158.04" y="314.30" font-size="5.4" text-anchor="end" fill="#505050" transform="rotate(-90 158.04 314.30)" stroke="#505050" stroke-width="0.08">S21</text>
<text x="168.91" y="314.30" font-size="5.4" text-anchor="end" fill="#505050" transform="rotate(-90 168.91 314.30)" stroke="#505050" stroke-width="0.08">S22</text>
<text x="179.79" y="314.30" font-size="5.4" text-anchor="end" fill="#505050" transform="rotate(-90 179.79 314.30)" stroke="#505050" stroke-width="0.08">S06</text>
<text x="190.66" y="314.30" font-size="5.4" text-anchor="end" fill="#505050" transform="rotate(-90 190.66 314.30)" stroke="#505050" stroke-width="0.08">S31</text>
<text x="201.54" y="314.30" font-size="5.4" text-anchor="end" fill="#505050" transform="rotate(-90 201.54 314.30)" stroke="#505050" stroke-width="0.08">S08</text>
<text x="212.41" y="314.30" font-size="5.4" text-anchor="end" fill="#505050" transform="rotate(-90 212.41 314.30)" stroke="#505050" stroke-width="0.08">S33</text>
<text x="223.29" y="314.30" font-size="5.4" text-anchor="end" fill="#505050" transform="rotate(-90 223.29 314.30)" stroke="#505050" stroke-width="0.08">S38</text>
<text x="234.16" y="314.30" font-size="5.4" text-anchor="end" fill="#505050" transform="rotate(-90 234.16 314.30)" stroke="#505050" stroke-width="0.08">S43</text>
<text x="245.04" y="314.30" font-size="5.4" text-anchor="end" fill="#505050" transform="rotate(-90 245.04 314.30)" stroke="#505050" stroke-width="0.08">S13</text>
<text x="255.91" y="314.30" font-size="5.4" text-anchor="end" fill="#505050" transform="rotate(-90 255.91 314.30)" stroke="#505050" stroke-width="0.08">S15</text>
<text x="266.79" y="314.30" font-size="5.4" text-anchor="end" fill="#505050" transform="rotate(-90 266.79 314.30)" stroke="#505050" stroke-width="0.08">S47</text>
<text x="277.66" y="314.30" font-size="5.4" text-anchor="end" fill="#505050" transform="rotate(-90 277.66 314.30)" stroke="#505050" stroke-width="0.08">S44</text>
<text x="288.54" y="314.30" font-size="5.4" text-anchor="end" fill="#505050" transform="rotate(-90 288.54 314.30)" stroke="#505050" stroke-width="0.08">S23</text>
<text x="299.41" y="314.30" font-size="5.4" text-anchor="end" fill="#505050" transform="rotate(-90 299.41 314.30)" stroke="#505050" stroke-width="0.08">S24</text>
<text x="310.29" y="314.30" font-size="5.4" text-anchor="end" fill="#505050" transform="rotate(-90 310.29 314.30)" stroke="#505050" stroke-width="0.08">S46</text>
<text x="178.10" y="337.60" font-size="11.9" text-anchor="middle" fill="#2a2a2a" stroke="#2a2a2a" stroke-width="0.08" textLength="58" lengthAdjust="spacingAndGlyphs">Observations</text>
<text x="157.60" y="357.30" font-size="11.4" text-anchor="middle" fill="#2a2a2a" stroke="#2a2a2a" stroke-width="0.08">(c)</text>
<text x="10.00" y="248.20" font-size="11.9" text-anchor="middle" fill="#2a2a2a" transform="rotate(-90 10.00 248.20)" stroke="#2a2a2a" stroke-width="0.08" textLength="38" lengthAdjust="spacingAndGlyphs">Distance</text>
<text x="355.80" y="312.77" font-size="10.2" text-anchor="end" fill="#2a2a2a" stroke="#2a2a2a" stroke-width="0.08">0</text>
<text x="355.80" y="272.87" font-size="10.2" text-anchor="end" fill="#2a2a2a" stroke="#2a2a2a" stroke-width="0.08">2</text>
<text x="355.80" y="232.97" font-size="10.2" text-anchor="end" fill="#2a2a2a" stroke="#2a2a2a" stroke-width="0.08">4</text>
<text x="355.80" y="193.07" font-size="10.2" text-anchor="end" fill="#2a2a2a" stroke="#2a2a2a" stroke-width="0.08">6</text>
<text x="375.89" y="314.30" font-size="5.4" text-anchor="end" fill="#505050" transform="rotate(-90 375.89 314.30)" stroke="#505050" stroke-width="0.08">S04</text>
<text x="386.78" y="314.30" font-size="5.4" text-anchor="end" fill="#505050" transform="rotate(-90 386.78 314.30)" stroke="#505050" stroke-width="0.08">S29</text>
<text x="397.68" y="314.30" font-size="5.4" text-anchor="end" fill="#505050" transform="rotate(-90 397.68 314.30)" stroke="#505050" stroke-width="0.08">S03</text>
<text x="408.57" y="314.30" font-size="5.4" text-anchor="end" fill="#505050" transform="rotate(-90 408.57 314.30)" stroke="#505050" stroke-width="0.08">S30</text>
<text x="419.47" y="314.30" font-size="5.4" text-anchor="end" fill="#505050" transform="rotate(-90 419.47 314.30)" stroke="#505050" stroke-width="0.08">S34</text>
<text x="430.36" y="314.30" font-size="5.4" text-anchor="end" fill="#505050" transform="rotate(-90 430.36 314.30)" stroke="#505050" stroke-width="0.08">S32</text>
<text x="441.25" y="314.30" font-size="5.4" text-anchor="end" fill="#505050" transform="rotate(-90 441.25 314.30)" stroke="#505050" stroke-width="0.08">S06</text>
<text x="452.15" y="314.30" font-size="5.4" text-anchor="end" fill="#505050" transform="rotate(-90 452.15 314.30)" stroke="#505050" stroke-width="0.08">S07</text>
<text x="463.04" y="314.30" font-size="5.4" text-anchor="end" fill="#505050" transform="rotate(-90 463.04 314.30)" stroke="#505050" stroke-width="0.08">S12</text>
<text x="473.94" y="314.30" font-size="5.4" text-anchor="end" fill="#505050" transform="rotate(-90 473.94 314.30)" stroke="#505050" stroke-width="0.08">S39</text>
<text x="484.83" y="314.30" font-size="5.4" text-anchor="end" fill="#505050" transform="rotate(-90 484.83 314.30)" stroke="#505050" stroke-width="0.08">S44</text>
<text x="495.72" y="314.30" font-size="5.4" text-anchor="end" fill="#505050" transform="rotate(-90 495.72 314.30)" stroke="#505050" stroke-width="0.08">S21</text>
<text x="506.62" y="314.30" font-size="5.4" text-anchor="end" fill="#505050" transform="rotate(-90 506.62 314.30)" stroke="#505050" stroke-width="0.08">S22</text>
<text x="517.51" y="314.30" font-size="5.4" text-anchor="end" fill="#505050" transform="rotate(-90 517.51 314.30)" stroke="#505050" stroke-width="0.08">S33</text>
<text x="528.41" y="314.30" font-size="5.4" text-anchor="end" fill="#505050" transform="rotate(-90 528.41 314.30)" stroke="#505050" stroke-width="0.08">S25</text>
<text x="539.30" y="314.30" font-size="5.4" text-anchor="end" fill="#505050" transform="rotate(-90 539.30 314.30)" stroke="#505050" stroke-width="0.08">S20</text>
<text x="550.19" y="314.30" font-size="5.4" text-anchor="end" fill="#505050" transform="rotate(-90 550.19 314.30)" stroke="#505050" stroke-width="0.08">S37</text>
<text x="561.09" y="314.30" font-size="5.4" text-anchor="end" fill="#505050" transform="rotate(-90 561.09 314.30)" stroke="#505050" stroke-width="0.08">S08</text>
<text x="571.98" y="314.30" font-size="5.4" text-anchor="end" fill="#505050" transform="rotate(-90 571.98 314.30)" stroke="#505050" stroke-width="0.08">S46</text>
<text x="582.88" y="314.30" font-size="5.4" text-anchor="end" fill="#505050" transform="rotate(-90 582.88 314.30)" stroke="#505050" stroke-width="0.08">S23</text>
<text x="593.77" y="314.30" font-size="5.4" text-anchor="end" fill="#505050" transform="rotate(-90 593.77 314.30)" stroke="#505050" stroke-width="0.08">S45</text>
<text x="604.66" y="314.30" font-size="5.4" text-anchor="end" fill="#505050" transform="rotate(-90 604.66 314.30)" stroke="#505050" stroke-width="0.08">S47</text>
<text x="615.56" y="314.30" font-size="5.4" text-anchor="end" fill="#505050" transform="rotate(-90 615.56 314.30)" stroke="#505050" stroke-width="0.08">S13</text>
<text x="626.45" y="314.30" font-size="5.4" text-anchor="end" fill="#505050" transform="rotate(-90 626.45 314.30)" stroke="#505050" stroke-width="0.08">S24</text>
<text x="637.35" y="314.30" font-size="5.4" text-anchor="end" fill="#505050" transform="rotate(-90 637.35 314.30)" stroke="#505050" stroke-width="0.08">S38</text>
<text x="504.80" y="337.90" font-size="11.9" text-anchor="middle" fill="#2a2a2a" stroke="#2a2a2a" stroke-width="0.08" textLength="58" lengthAdjust="spacingAndGlyphs">Observations</text>
<text x="488.30" y="357.70" font-size="11.4" text-anchor="middle" fill="#2a2a2a" stroke="#2a2a2a" stroke-width="0.08">(d)</text>
<text x="342.50" y="248.40" font-size="11.9" text-anchor="middle" fill="#2a2a2a" transform="rotate(-90 342.50 248.40)" stroke="#2a2a2a" stroke-width="0.08" textLength="38" lengthAdjust="spacingAndGlyphs">Distance</text>
</g>
</svg>
</body></html>
